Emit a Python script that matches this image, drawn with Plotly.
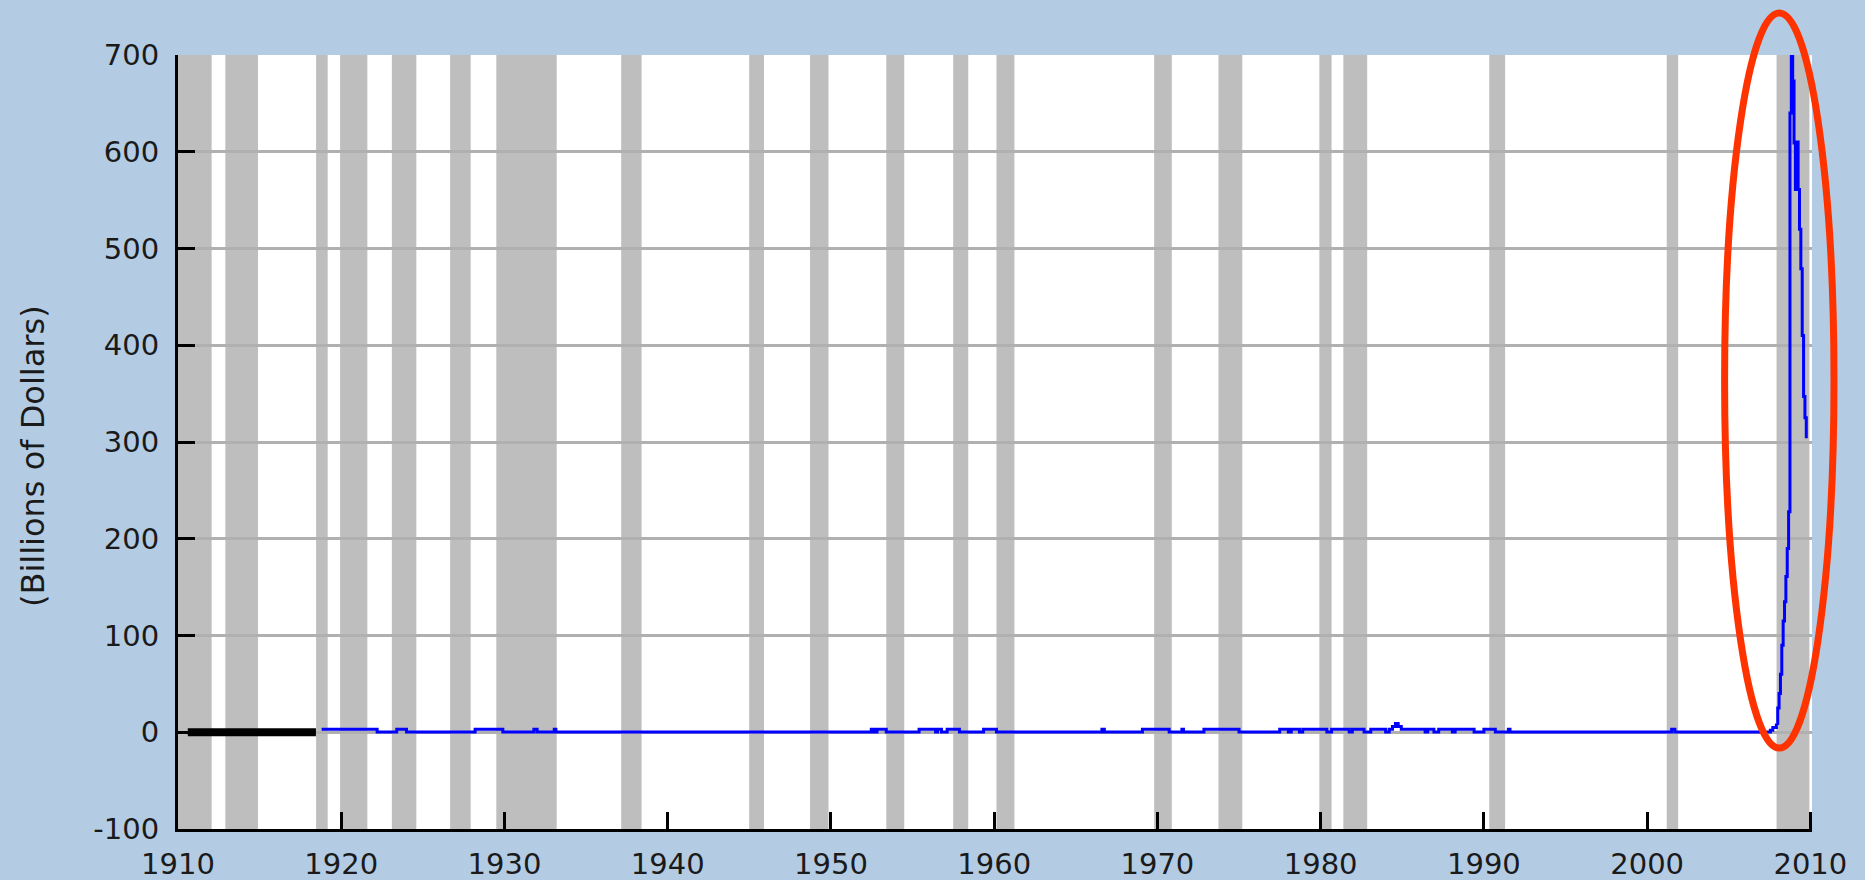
import plotly.graph_objects as go

# Recession shading (decimal years)
rec_start = [1910.0, 1912.9, 1918.46, 1919.93, 1923.1, 1926.67, 1929.5, 1937.15,
             1944.99, 1948.72, 1953.39, 1957.49, 1960.14, 1969.8, 1973.74,
             1979.92, 1981.39, 1990.33, 2001.2, 2007.93]
rec_end = [1912.06, 1914.9, 1919.17, 1921.6, 1924.6, 1927.93, 1933.2, 1938.4,
           1945.9, 1949.85, 1954.49, 1958.41, 1961.24, 1970.88, 1975.2,
           1980.67, 1982.85, 1991.3, 2001.9, 2009.94]

# Borrowings, change points (step series), billions of dollars
borrow_years = [1918.8, 1922.2, 1923.4, 1924.0, 1928.2, 1929.9, 1931.8, 1932.0,
                1933.05, 1933.15, 1952.47, 1952.65, 1952.82, 1953.39, 1955.4,
                1956.41, 1956.53, 1956.77, 1957.12, 1957.87, 1959.35, 1960.14,
                1966.6, 1966.75, 1969.08, 1970.72, 1971.5, 1971.6, 1972.85,
                1975.0, 1977.49, 1978.02, 1978.2, 1978.7, 1978.9, 1980.38,
                1980.67, 1981.75, 1981.94, 1982.66, 1983.07, 1983.98, 1984.2,
                1984.4, 1984.58, 1984.75, 1984.94, 1986.4, 1986.56, 1986.94,
                1987.23, 1988.07, 1988.24, 1989.4, 1990.0, 1990.7, 1991.5,
                1991.6, 2001.5, 2001.7, 2007.55, 2007.7, 2007.917]
borrow_values = [3, 0.3, 3, 0.3, 3, 0.3, 3, 0.3,
                 3, 0.3, 3, 0.3, 3, 0.3, 3,
                 0.3, 3, 0.3, 3, 0.3, 3, 0.3,
                 3, 0.3, 3, 0.3, 3, 0.3, 3,
                 0.3, 3, 0.3, 3, 0.3, 3, 0.3,
                 3, 0.3, 3, 0.3, 3, 0.3, 3,
                 6, 9, 6, 3, 0.3, 3, 0.3,
                 3, 0.3, 3, 0.3, 3, 0.3, 3,
                 0.3, 3, 0.3, 2, 5, 9]

# Financial crisis months (monthly, decimal years)
crisis_years = [2007.917, 2008.0, 2008.083, 2008.167, 2008.25, 2008.333, 2008.417,
                2008.5, 2008.583, 2008.667, 2008.75, 2008.833, 2008.917, 2009.0,
                2009.083, 2009.167, 2009.25, 2009.333, 2009.417, 2009.5, 2009.583,
                2009.667, 2009.75]
crisis_values = [9, 25, 40, 60, 90, 115, 135, 161, 190, 228, 640, 700, 673, 609,
                 561, 610, 561, 520, 479, 410, 347, 325, 304]

# Early (pre-series) marker line
early_years = [1910.6, 1918.45]
early_values = [0, 0]

x_ticks = [1910, 1920, 1930, 1940, 1950, 1960, 1970, 1980, 1990, 2000, 2010]
y_ticks = [-100, 0, 100, 200, 300, 400, 500, 600, 700]
y_tick_text = ["-100", "0", "100", "200", "300", "400", "500", "600", "700"]

W, H = 1865, 880
ml, mr, mt, mb = 178, 53, 55, 51
pw, ph = W - ml - mr, H - mt - mb

fig = go.Figure()
fig.add_trace(go.Scatter(x=early_years, y=early_values, mode="lines",
                         line=dict(color="black", width=8), hoverinfo="skip",
                         showlegend=False))
fig.add_trace(go.Scatter(x=borrow_years, y=borrow_values, mode="lines",
                         line=dict(color="#0000ff", width=3, shape="hv"),
                         showlegend=False))
fig.add_trace(go.Scatter(x=crisis_years, y=crisis_values, mode="lines",
                         line=dict(color="#0000ff", width=3, shape="hv"),
                         showlegend=False))

shapes = []
for s, e in zip(rec_start, rec_end):
    shapes.append(dict(type="rect", xref="x", yref="paper", x0=s, x1=e, y0=0, y1=1,
                       fillcolor="#bebebe", line=dict(width=0), layer="between"))

def px_to_paper_x(px):
    return (px - ml) / pw

def px_to_paper_y(py):
    return 1 - (py - mt) / ph

shapes.append(dict(type="circle", xref="paper", yref="paper",
                   x0=px_to_paper_x(1724.6), x1=px_to_paper_x(1834),
                   y0=px_to_paper_y(748), y1=px_to_paper_y(13),
                   line=dict(color="#ff3300", width=7), layer="above"))

fig.update_layout(
    width=W, height=H,
    margin=dict(l=ml, r=mr, t=mt, b=mb),
    paper_bgcolor="#b3cce4",
    plot_bgcolor="white",
    shapes=shapes,
    font=dict(family="DejaVu Sans", size=29, color="#1a1a1a"),
    annotations=[dict(text="(Billions of Dollars)", xref="paper", yref="paper",
                      x=px_to_paper_x(33), y=px_to_paper_y(456), textangle=-90,
                      showarrow=False, font=dict(size=32, family="DejaVu Sans",
                                                 color="#1a1a1a"),
                      xanchor="center", yanchor="middle")],
)
fig.update_xaxes(range=[1910, 2010.1], tickvals=x_ticks, ticks="inside", ticklen=17,
                 tickwidth=3, tickcolor="black", showline=True, linecolor="black",
                 linewidth=3, showgrid=False, zeroline=False, ticklabelstandoff=7,
                 automargin=False)
fig.update_yaxes(range=[-100, 700], tickvals=y_ticks, ticktext=y_tick_text,
                 ticks="inside", ticklen=17,
                 tickwidth=3, tickcolor="black", showline=True, linecolor="black",
                 linewidth=3, showgrid=True, gridcolor="#b0b0b0", gridwidth=2.5,
                 zeroline=False, ticklabelstandoff=10, automargin=False)

fig.write_html("out.html", config={"displayModeBar": False},
               post_script="document.body.style.margin='0';document.body.style.overflow='hidden';")
